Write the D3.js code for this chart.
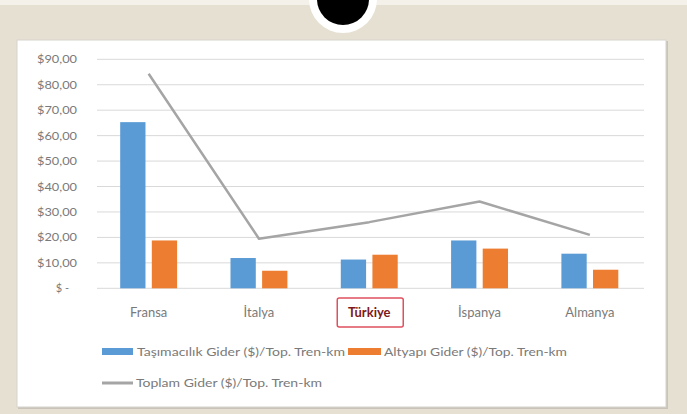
<!DOCTYPE html>
<html>
<head>
<meta charset="utf-8">
<script src="https://cdn.jsdelivr.net/npm/d3@7"></script>
<style>
  html, body { margin: 0; padding: 0; background: #e6e0d2; }
  svg { display: block; }
</style>
</head>
<body>
<svg id="chart" width="687" height="414"></svg>
<script>
const categories = ["Fransa", "İtalya", "Türkiye", "İspanya", "Almanya"];
const tasimacilik = [65.3, 11.9, 11.3, 18.8, 13.6];
const altyapi = [18.8, 6.9, 13.2, 15.6, 7.3];
const toplam = [84.3, 19.5, 26, 34.1, 21];
const yTicks = [0, 10, 20, 30, 40, 50, 60, 70, 80, 90];
const seriesNames = ["Taşımacılık Gider ($)/Top. Tren-km", "Altyapı Gider ($)/Top. Tren-km", "Toplam Gider ($)/Top. Tren-km"];

const blue = "#5b9bd5", orange = "#ed7d31", grey = "#a5a5a5";
const font = "Lato, 'Open Sans', sans-serif";

const svg = d3.select("#chart");

// lighter strip at the very top
svg.append("rect").attr("x", 0).attr("y", 0).attr("width", 687).attr("height", 5).attr("fill", "#f4f1ea");

// white panel with soft shadow
svg.append("rect").attr("x", 18).attr("y", 41).attr("width", 650).attr("height", 368).attr("fill", "#c9c4ba");
svg.append("rect").attr("x", 17).attr("y", 40).attr("width", 649).attr("height", 367)
  .attr("fill", "#fff").attr("stroke", "#d6d3cc").attr("stroke-width", 1);

// pin hole at the top
svg.append("circle").attr("cx", 343).attr("cy", -1).attr("r", 34).attr("fill", "#fff");
svg.append("circle").attr("cx", 343).attr("cy", -1).attr("r", 26).attr("fill", "#000");

const x = d3.scaleBand().domain(categories).range([93.5, 645]).padding(0);
const xSub = d3.scaleBand().domain(["a", "b"])
  .range([x.bandwidth() * 0.242, x.bandwidth() * 0.758]).paddingInner(0.2);
const y = d3.scaleLinear().domain([0, 90]).range([288.3, 59.3]);

// grid
svg.append("g").selectAll("line").data(yTicks).join("line")
  .attr("x1", 97).attr("x2", 644)
  .attr("y1", d => y(d)).attr("y2", d => y(d))
  .attr("stroke", "#d9d9d9").attr("stroke-width", 1);

// y axis labels
const yAxis = d3.axisLeft(y).tickValues(yTicks).tickSize(0).tickPadding(0)
  .tickFormat(d => d === 0 ? "$ -" : "$" + d + ",00");
const yg = svg.append("g").attr("transform", "translate(77,0)").call(yAxis);
yg.select(".domain").remove();
yg.selectAll("text").attr("fill", "#7a7a7a").style("font-family", font).style("font-size", "11px")
  .attr("textLength", d => d === 0 ? null : 40).attr("lengthAdjust", "spacingAndGlyphs");
yg.selectAll(".tick").filter(d => d === 0).select("text").attr("x", -8);

// bars
const bars = svg.append("g");
bars.selectAll(".b1").data(categories).join("rect")
  .attr("x", (d) => x(d) + xSub("a")).attr("width", xSub.bandwidth())
  .attr("y", (d, i) => y(tasimacilik[i])).attr("height", (d, i) => y(0) - y(tasimacilik[i]))
  .attr("fill", blue);
bars.selectAll(".b2").data(categories).join("rect")
  .attr("x", (d) => x(d) + xSub("b")).attr("width", xSub.bandwidth())
  .attr("y", (d, i) => y(altyapi[i])).attr("height", (d, i) => y(0) - y(altyapi[i]))
  .attr("fill", orange);

// total line
const line = d3.line()
  .x((d, i) => x(categories[i]) + x.bandwidth() / 2)
  .y(d => y(d));
svg.append("path").datum(toplam).attr("d", line)
  .attr("fill", "none").attr("stroke", grey).attr("stroke-width", 2.5).attr("stroke-linejoin", "round");

// x axis labels
const xAxis = d3.axisBottom(x).tickSize(0).tickPadding(0);
const xg = svg.append("g").attr("transform", "translate(0,313)").call(xAxis);
xg.select(".domain").remove();
xg.selectAll("text").attr("fill", "#7a7a7a").style("font-family", font).style("font-size", "13px").attr("dy", "0.32em");
xg.selectAll(".tick").filter(d => d === "Türkiye").each(function() {
  const t = d3.select(this);
  t.insert("rect", "text").attr("x", -32).attr("y", -15).attr("width", 66).attr("height", 29)
    .attr("fill", "#fff").attr("stroke", "#e0505e").attr("stroke-width", 1.5).attr("rx", 2);
  t.select("text").attr("fill", "#7d1820").style("font-weight", "bold").style("font-size", "13px");
});

// legend
const lg = svg.append("g").style("font-family", font).style("font-size", "12px").attr("fill", "#7a7a7a");
lg.append("rect").attr("x", 102).attr("y", 348).attr("width", 31).attr("height", 7).attr("fill", blue);
lg.append("text").attr("x", 137).attr("y", 352).attr("dy", "0.35em").text(seriesNames[0])
  .attr("textLength", 208).attr("lengthAdjust", "spacingAndGlyphs");
lg.append("rect").attr("x", 348).attr("y", 348).attr("width", 33).attr("height", 7).attr("fill", orange);
lg.append("text").attr("x", 384).attr("y", 352).attr("dy", "0.35em").text(seriesNames[1])
  .attr("textLength", 183).attr("lengthAdjust", "spacingAndGlyphs");
lg.append("line").attr("x1", 102).attr("x2", 133).attr("y1", 383).attr("y2", 383).attr("stroke", grey).attr("stroke-width", 3);
lg.append("text").attr("x", 136).attr("y", 383).attr("dy", "0.35em").text(seriesNames[2])
  .attr("textLength", 186).attr("lengthAdjust", "spacingAndGlyphs");
</script>
</body>
</html>
